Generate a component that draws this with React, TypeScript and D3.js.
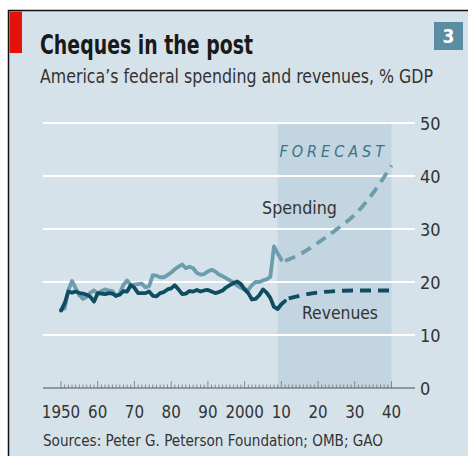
import React from "react";
import * as d3 from "d3";

const histYears = d3.range(1950, 2011);
const spendingHist = [
  14.7, 15.0, 18.5, 20.2, 18.8, 17.5, 16.8, 17.2, 18.0, 18.4,
  17.8, 18.3, 18.6, 18.4, 18.3, 17.3, 17.9, 19.5, 20.3, 19.4,
  19.5, 19.6, 19.7, 19.0, 19.2, 21.3, 21.2, 20.9, 20.9, 21.3,
  21.8, 22.4, 22.9, 23.3, 22.6, 22.9, 22.6, 21.7, 21.4, 21.5,
  22.0, 22.3, 22.0, 21.4, 21.1, 20.7, 20.3, 19.9, 19.3, 18.9,
  18.6, 18.5, 19.4, 20.0, 20.0, 20.3, 20.5, 21.0, 26.7, 25.4,
  24.2,
];
const revYears = d3.range(1950, 2012);
const revenuesHist = [
  14.6, 16.0, 18.2, 18.0, 18.2, 17.9, 17.8, 17.6, 17.2, 16.3,
  17.9, 17.8, 17.7, 17.9, 17.8, 17.4, 17.6, 18.3, 18.2, 19.4,
  18.9, 17.9, 17.9, 17.9, 18.2, 17.4, 17.3, 17.9, 18.1, 18.6,
  18.8, 19.4, 18.6, 17.7, 17.8, 18.3, 18.2, 18.5, 18.2, 18.4,
  18.5, 18.2, 17.9, 18.1, 18.4, 19.0, 19.4, 19.8, 20.1, 19.6,
  18.6, 17.9, 16.7, 16.8, 17.5, 18.6, 18.0, 17.0, 15.3, 14.9,
  15.8, 16.4,
];
const spendFcYears = [2011, 2015, 2020, 2025, 2030, 2035, 2040];
const spendingFc = [24.0, 25.2, 27.4, 29.9, 32.7, 36.8, 42.0];
const revFcYears = [2012, 2015, 2020, 2025, 2030, 2035, 2040];
const revenuesFc = [16.9, 17.4, 18.0, 18.3, 18.4, 18.4, 18.4];

const yTicks = [0, 10, 20, 30, 40, 50];
const xTickYears = [1950, 1960, 1970, 1980, 1990, 2000, 2010, 2020, 2030, 2040];
const xTickLabels = ["1950", "60", "70", "80", "90", "2000", "10", "20", "30", "40"];
const forecastRange = [2009, 2040];

const FONT = "'Liberation Sans Narrow', 'DejaVu Sans Condensed', 'Liberation Sans', sans-serif";
const BG = "#d6e2ea";
const SHADE = "#c2d5e0";
const LIGHT = "#6c9dad";
const DARK = "#0e4d61";
const TEXT = "#333333";

export default function App() {
  const x = d3.scaleLinear().domain([1950, 2040]).range([61, 391.5]);
  const y = d3.scaleLinear().domain([0, 50]).range([388, 123]);

  const line = d3
    .line<[number, number]>()
    .x((d) => x(d[0]))
    .y((d) => y(d[1]))
    .curve(d3.curveLinear);
  const smooth = d3
    .line<[number, number]>()
    .x((d) => x(d[0]))
    .y((d) => y(d[1]))
    .curve(d3.curveMonotoneX);

  const spendH = histYears.map((yr, i) => [yr, spendingHist[i]] as [number, number]);
  const revH = revYears.map((yr, i) => [yr, revenuesHist[i]] as [number, number]);
  const spendF = spendFcYears.map((yr, i) => [yr, spendingFc[i]] as [number, number]);
  const revF = revFcYears.map((yr, i) => [yr, revenuesFc[i]] as [number, number]);

  const minor = d3.range(1950, 2041);

  return (
    <svg
      width={468}
      height={456}
      style={{ position: "absolute", left: 0, top: 0 }}
      fontFamily={FONT}
    >
      <rect x={0} y={0} width={468} height={456} fill="#ffffff" />
      <rect x={8} y={10} width={460} height={446} fill={BG} />
      <line x1={8} y1={10.5} x2={468} y2={10.5} stroke="#111" strokeWidth={1.5} />
      <line x1={8.5} y1={10} x2={8.5} y2={456} stroke="#111" strokeWidth={1.5} />
      <rect x={9.5} y={11.5} width={12.5} height={41.5} fill="#e3120b" />

      <text x={40} y={54} fontSize={26} fontWeight="bold" fill="#1a1a1a" textLength={213} lengthAdjust="spacingAndGlyphs">
        Cheques in the post
      </text>
      <text x={40} y={83} fontSize={19} fill={TEXT} textLength={393} lengthAdjust="spacingAndGlyphs">
        America’s federal spending and revenues, % GDP
      </text>

      <rect x={434} y={22} width={29} height={28} fill="#5a8da2" />
      <text x={448.5} y={43} fontSize={19} fontWeight="bold" fill="#ffffff" textAnchor="middle">
        3
      </text>

      <rect
        x={x(forecastRange[0])}
        y={y(50)}
        width={x(forecastRange[1]) - x(forecastRange[0])}
        height={y(0) - y(50)}
        fill={SHADE}
      />

      {yTicks.filter((t) => t > 0).map((t) => (
        <line key={t} x1={43} x2={415} y1={y(t)} y2={y(t)} stroke="#ffffff" strokeWidth={2} />
      ))}
      <line x1={43} x2={415} y1={y(0)} y2={y(0)} stroke="#7a7f84" strokeWidth={1.5} />
      {minor.map((yr) => (
        <line
          key={yr}
          x1={x(yr)}
          x2={x(yr)}
          y1={y(0)}
          y2={y(0) - (yr % 10 === 0 ? 7 : 3.5)}
          stroke="#6f7479"
          strokeWidth={0.8}
        />
      ))}
      {yTicks.map((t) => (
        <text key={t} x={420} y={y(t) + 6.5} fontSize={18} fill={TEXT}>
          {t}
        </text>
      ))}
      {xTickYears.map((yr, i) => (
        <text
          key={yr}
          x={x(yr)}
          y={418}
          fontSize={18}
          fill={TEXT}
          textAnchor="middle"
          textLength={xTickLabels[i].length * 9.6}
          lengthAdjust="spacingAndGlyphs"
        >
          {xTickLabels[i]}
        </text>
      ))}

      <text
        x={388}
        y={157}
        fontSize={16}
        fontStyle="italic"
        fill="#3d7387"
        textAnchor="end"
        letterSpacing={4}
      >
        FORECAST
      </text>

      <path d={line(spendH) || ""} fill="none" stroke={LIGHT} strokeWidth={3.8} strokeLinejoin="round" strokeLinecap="round" />
      <path d={smooth(spendF) || ""} fill="none" stroke={LIGHT} strokeWidth={3.8} strokeDasharray="11,7" />
      <path d={line(revH) || ""} fill="none" stroke={DARK} strokeWidth={3.8} strokeLinejoin="round" strokeLinecap="round" />
      <path d={smooth(revF) || ""} fill="none" stroke={DARK} strokeWidth={3.8} strokeDasharray="11,7" />

      <text x={262} y={214} fontSize={18} fill={TEXT} textLength={75} lengthAdjust="spacingAndGlyphs">
        Spending
      </text>
      <text x={302} y={319} fontSize={18} fill={TEXT} textLength={76} lengthAdjust="spacingAndGlyphs">
        Revenues
      </text>

      <text x={43} y={446} fontSize={16} fill={TEXT} textLength={340} lengthAdjust="spacingAndGlyphs">
        Sources: Peter G. Peterson Foundation; OMB; GAO
      </text>
    </svg>
  );
}
